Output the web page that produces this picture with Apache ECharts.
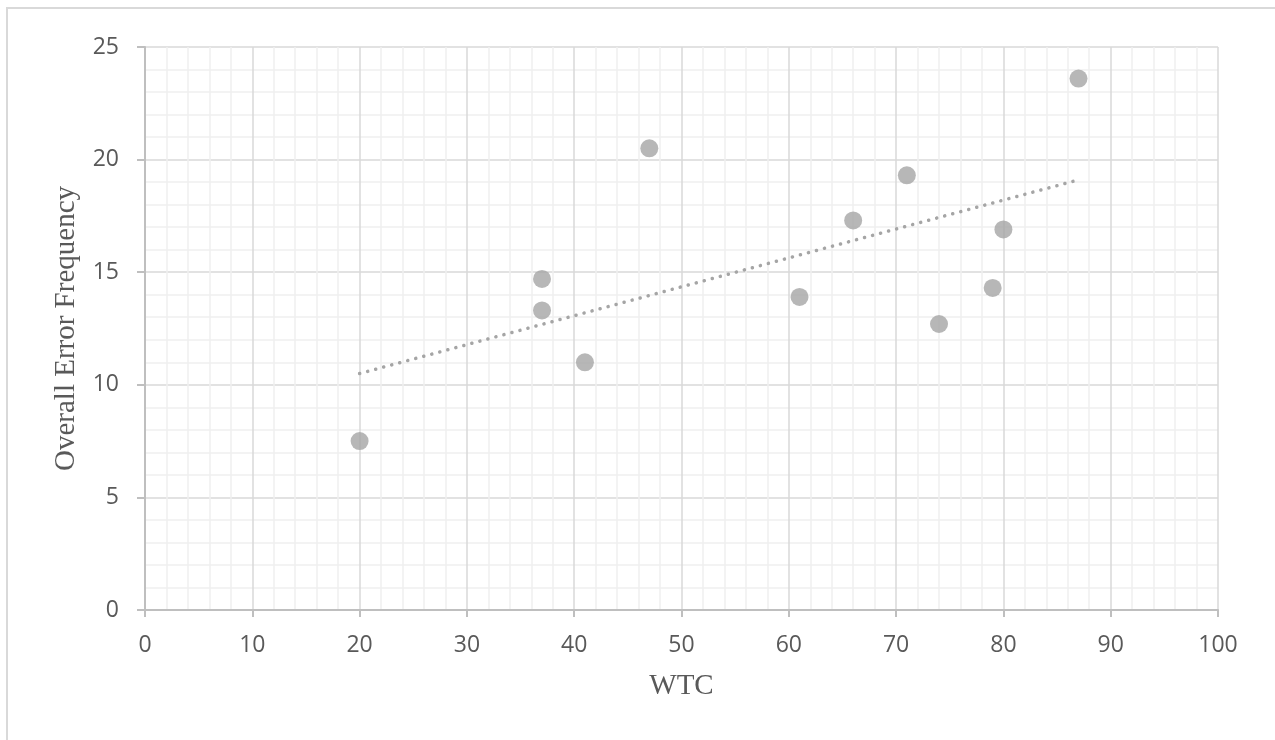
<!DOCTYPE html>
<html>
<head>
<meta charset="utf-8">
<script src="https://cdn.jsdelivr.net/npm/echarts@6/dist/echarts.min.js"></script>
<style>html,body{margin:0;padding:0;background:#fff;}#c{width:1275px;height:740px;}</style>
</head>
<body>
<div id="c"></div>
<script>
const wtc = [20, 37, 37, 41, 47, 61, 66, 71, 74, 79, 80, 87];
const errorFreq = [7.5, 14.7, 13.3, 11.0, 20.5, 13.9, 17.3, 19.3, 12.7, 14.3, 16.9, 23.6];
const trendX = [20, 87];
const trendY = [10.5, 19.1];
const xTitle = 'WTC';
const yTitle = 'Overall Error Frequency';

const chart = echarts.init(document.getElementById('c'), null, {renderer: 'canvas'});
const axisLabelStyle = {color: '#595959', fontSize: 23, fontFamily: 'Open Sans, Liberation Sans, sans-serif'};
const titleStyle = {color: '#595959', fontSize: 29, fontFamily: 'Liberation Serif, Times New Roman, serif'};
chart.setOption({
  animation: false,
  backgroundColor: '#fff',
  graphic: [{
    type: 'rect', silent: true, z: -1,
    shape: {x: 7, y: 8, width: 1400, height: 900},
    style: {fill: 'none', stroke: '#d9d9d9', lineWidth: 2}
  }],
  grid: {left: 145, right: 57, top: 47, bottom: 130},
  xAxis: {
    type: 'value', min: 0, max: 100, interval: 10,
    name: xTitle, nameLocation: 'middle', nameGap: 62,
    nameTextStyle: titleStyle,
    axisLine: {show: true, onZero: false, lineStyle: {color: '#bfbfbf', width: 2}},
    axisTick: {show: true, length: 7, lineStyle: {color: '#bfbfbf', width: 2}},
    axisLabel: Object.assign({margin: 24}, axisLabelStyle),
    splitLine: {show: true, lineStyle: {color: '#d9d9d9', width: 1.5}},
    minorTick: {show: false, splitNumber: 5},
    minorSplitLine: {show: true, lineStyle: {color: '#f0f0f0', width: 1.5}}
  },
  yAxis: {
    type: 'value', min: 0, max: 25, interval: 5,
    name: yTitle, nameLocation: 'middle', nameGap: 64, nameRotate: 90,
    nameTextStyle: titleStyle,
    axisLine: {show: true, onZero: false, lineStyle: {color: '#bfbfbf', width: 2}},
    axisTick: {show: true, length: 8, lineStyle: {color: '#bfbfbf', width: 2}},
    axisLabel: Object.assign({margin: 26}, axisLabelStyle),
    splitLine: {show: true, lineStyle: {color: '#d9d9d9', width: 1.5}},
    minorTick: {show: false, splitNumber: 5},
    minorSplitLine: {show: true, lineStyle: {color: '#f0f0f0', width: 1.5}}
  },
  series: [
    {
      type: 'line',
      data: trendX.map((x, i) => [x, trendY[i]]),
      showSymbol: false, symbol: 'none',
      lineStyle: {color: '#a5a5a5', width: 3.5, type: [0.1, 8.2], cap: 'round'},
      z: 2
    },
    {
      type: 'scatter',
      data: wtc.map((x, i) => [x, errorFreq[i]]),
      symbol: 'circle', symbolSize: 18,
      itemStyle: {color: '#a5a5a5'},
      z: 3
    }
  ]
});
</script>
</body>
</html>
